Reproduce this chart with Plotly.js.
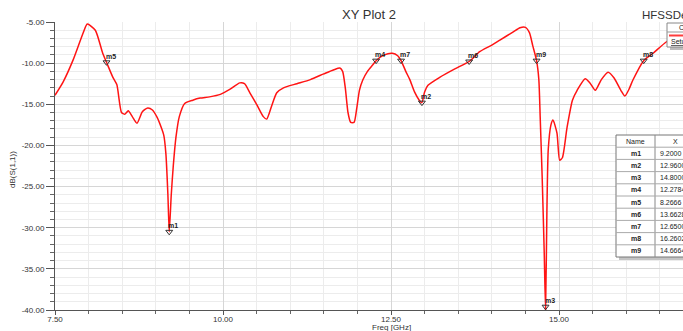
<!DOCTYPE html>
<html>
<head>
<meta charset="utf-8">
<script src="https://cdn.plot.ly/plotly-3.0.1.min.js"></script>
<style>
html,body{margin:0;padding:0;overflow:hidden;background:#fff;}
#chart{width:745px;height:331px;}
</style>
</head>
<body>
<div id="chart"></div>
<script>
// ---- data ----
const freq = [7.50,7.62,7.77,7.92,7.98,8.10,8.21,8.2666,8.36,8.42,8.49,8.54,8.59,8.65,8.72,8.80,8.88,8.95,9.02,9.08,9.12,9.15,9.18,9.20,9.23,9.26,9.30,9.35,9.43,9.55,9.66,9.80,9.96,10.10,10.25,10.32,10.40,10.50,10.60,10.65,10.72,10.80,10.90,11.10,11.30,11.50,11.65,11.74,11.78,11.82,11.86,11.90,11.95,11.99,12.03,12.08,12.15,12.23,12.2784,12.40,12.52,12.60,12.65,12.72,12.78,12.85,12.92,12.96,13.00,13.05,13.23,13.45,13.6628,13.82,14.00,14.12,14.32,14.42,14.50,14.56,14.61,14.6664,14.70,14.72,14.75,14.78,14.80,14.82,14.84,14.88,14.91,14.97,15.01,15.05,15.12,15.20,15.27,15.39,15.46,15.54,15.63,15.73,15.82,15.92,15.98,16.04,16.10,16.2602,16.40,16.60,16.85,17.00];
const s11  = [-13.9,-12.3,-9.6,-6.3,-5.25,-6.0,-8.8,-9.9,-11.7,-12.6,-16.0,-16.2,-15.8,-16.5,-17.3,-15.9,-15.45,-15.7,-16.6,-17.8,-18.8,-21.0,-26.0,-30.5,-26.0,-22.5,-19.0,-16.5,-14.9,-14.5,-14.25,-14.1,-13.8,-13.2,-12.4,-12.5,-13.6,-15.0,-16.5,-16.8,-15.3,-13.6,-13.0,-12.5,-12.0,-11.3,-10.8,-10.6,-11.0,-13.0,-16.0,-17.2,-17.2,-15.5,-13.3,-12.05,-11.0,-10.2,-9.7,-9.0,-8.8,-9.1,-9.7,-11.0,-12.0,-13.5,-14.5,-14.8,-13.5,-12.7,-11.7,-10.7,-9.8,-8.6,-7.8,-7.2,-6.2,-5.7,-5.65,-6.3,-7.9,-9.7,-12.0,-16.5,-24.0,-33.0,-40.0,-28.0,-20.5,-17.5,-16.9,-18.5,-21.8,-21.5,-17.8,-14.5,-13.3,-11.9,-12.4,-13.3,-12.0,-11.1,-11.8,-13.3,-14.0,-13.2,-12.05,-9.7,-8.8,-7.4,-6.3,-5.8];

const markerNames = ["m1","m2","m3","m4","m5","m6","m7","m8","m9"];
const markerX = [9.2000,12.9600,14.8000,12.2784,8.2666,13.6628,12.6500,16.2602,14.6664];
const markerY = [-30.5,-14.8,-39.6,-9.7,-9.9,-9.8,-9.7,-9.7,-9.7];
const markerXText = ["9.2000","12.9600","14.8000","12.2784","8.2666","13.6628","12.6500","16.2602","14.6664"];

const xTickVals = [7.5,10,12.5,15,17.5];
const xTickText = ["7.50","10.00","12.50","15.00","17.50"];
const yTickVals = [-40,-35,-30,-25,-20,-15,-10,-5];
const yTickText = ["-40.00","-35.00","-30.00","-25.00","-20.00","-15.00","-10.00","-5.00"];

// ---- geometry helpers (pixel -> paper) ----
const L = 55, T = 22, PW = 672, PH = 288;
const px = v => (v - L) / PW;
const py = v => 1 - (v - T) / PH;

const FONT = "Liberation Sans, Arial, sans-serif";

const traces = [
  {
    x: freq, y: s11, type: "scatter", mode: "lines",
    line: {color: "rgb(255,20,20)", width: 1.5, shape: "spline", smoothing: 0.6},
    hoverinfo: "skip", showlegend: false
  },
  {
    x: markerX, y: markerY, type: "scatter", mode: "markers",
    marker: {symbol: "triangle-down-open", size: 6, color: "#333", line: {width: 1, color: "#333"}},
    hoverinfo: "skip", showlegend: false
  }
];

const annotations = [];
const shapes = [];

// marker labels
markerNames.forEach((n, i) => {
  annotations.push({x: markerX[i], y: markerY[i], xref: "x", yref: "y", text: "<b>" + n + "</b>",
    showarrow: false, xshift: 4, yshift: 6, font: {family: FONT, size: 7, color: "#222"}});
});

// titles
annotations.push({xref: "paper", yref: "paper", x: px(369), y: py(15), text: "XY Plot 2", showarrow: false,
  xanchor: "center", yanchor: "middle", font: {family: FONT, size: 13, color: "#333"}});
annotations.push({xref: "paper", yref: "paper", x: px(640), y: py(15), text: "HFSSDesign1", showarrow: false,
  xanchor: "left", yanchor: "middle", font: {family: FONT, size: 11.5, color: "#333"}});
annotations.push({xref: "paper", yref: "paper", x: px(391), y: py(327.5), text: "Freq [GHz]", showarrow: false,
  xanchor: "center", yanchor: "middle", font: {family: FONT, size: 8, color: "#333"}});
annotations.push({xref: "paper", yref: "paper", x: px(12), y: py(170), text: "dB(S(1,1))", showarrow: false,
  textangle: -90, xanchor: "center", yanchor: "middle", font: {family: FONT, size: 8, color: "#333"}});

// legend box (top right)
shapes.push({type: "rect", xref: "paper", yref: "paper", x0: px(670), x1: px(733), y0: py(26), y1: py(50),
  fillcolor: "#bdbdbd", line: {width: 0}});
shapes.push({type: "rect", xref: "paper", yref: "paper", x0: px(667), x1: px(730), y0: py(23), y1: py(47),
  fillcolor: "#fff", line: {color: "#888", width: 1}});
shapes.push({type: "line", xref: "paper", yref: "paper", x0: px(667), x1: px(730), y0: py(32), y1: py(32),
  line: {color: "#999", width: 1}});
shapes.push({type: "line", xref: "paper", yref: "paper", x0: px(669), x1: px(690), y0: py(35.5), y1: py(35.5),
  line: {color: "rgb(255,60,60)", width: 2}});
annotations.push({xref: "paper", yref: "paper", x: px(677), y: py(27.5), text: "Curve Info", showarrow: false,
  xanchor: "left", yanchor: "middle", font: {family: FONT, size: 7, color: "#222"}});
annotations.push({xref: "paper", yref: "paper", x: px(669), y: py(41.5), text: "<u>Setup1 : Sweep</u>", showarrow: false,
  xanchor: "left", yanchor: "middle", font: {family: FONT, size: 7, color: "#222"}});

// marker table
const tL = 616, tR = 745, tC = 655, tT = 135, rH = 12.2;
const nRows = markerNames.length + 1;
shapes.push({type: "rect", xref: "paper", yref: "paper", x0: px(tL + 3), x1: px(tR + 3), y0: py(tT + 3), y1: py(tT + nRows * rH + 3),
  fillcolor: "#c4c4c4", line: {width: 0}});
shapes.push({type: "rect", xref: "paper", yref: "paper", x0: px(tL), x1: px(tR), y0: py(tT), y1: py(tT + nRows * rH),
  fillcolor: "#fff", line: {color: "#777", width: 1}});
shapes.push({type: "line", xref: "paper", yref: "paper", x0: px(tC), x1: px(tC), y0: py(tT), y1: py(tT + nRows * rH),
  line: {color: "#888", width: 1}});
for (let r = 1; r < nRows; r++) {
  shapes.push({type: "line", xref: "paper", yref: "paper", x0: px(tL), x1: px(tR), y0: py(tT + r * rH), y1: py(tT + r * rH),
    line: {color: "#aaa", width: 1}});
}
annotations.push({xref: "paper", yref: "paper", x: px((tL + tC) / 2), y: py(tT + rH / 2), text: "Name", showarrow: false,
  xanchor: "center", yanchor: "middle", font: {family: FONT, size: 7, color: "#222"}});
annotations.push({xref: "paper", yref: "paper", x: px(tC + 20), y: py(tT + rH / 2), text: "X", showarrow: false,
  xanchor: "center", yanchor: "middle", font: {family: FONT, size: 7, color: "#222"}});
markerNames.forEach((n, i) => {
  const yc = tT + (i + 1.5) * rH;
  annotations.push({xref: "paper", yref: "paper", x: px((tL + tC) / 2), y: py(yc), text: "<b>" + n + "</b>", showarrow: false,
    xanchor: "center", yanchor: "middle", font: {family: FONT, size: 7, color: "#222"}});
  annotations.push({xref: "paper", yref: "paper", x: px(tC + 3), y: py(yc), text: markerXText[i], showarrow: false,
    xanchor: "left", yanchor: "middle", font: {family: FONT, size: 7, color: "#222"}});
});

const layout = {
  width: 745, height: 331,
  margin: {l: L, r: 745 - L - PW, t: T, b: 331 - T - PH, pad: 0},
  paper_bgcolor: "#fff", plot_bgcolor: "#fff",
  font: {family: FONT, size: 9, color: "#333"},
  showlegend: false,
  xaxis: {
    range: [7.5, 17.5], autorange: false,
    tickmode: "array", tickvals: xTickVals, ticktext: xTickText,
    ticks: "outside", ticklen: 4, tickcolor: "#555", tickwidth: 1,
    ticklabelstandoff: -3,
    showgrid: true, gridcolor: "#d6d6d6", gridwidth: 1,
    showline: true, linecolor: "#555", linewidth: 1,
    zeroline: false,
    tickfont: {family: FONT, size: 8, color: "#333"},
    minor: {dtick: 0.5, tick0: 7.5, showgrid: true, gridcolor: "#ececec", gridwidth: 1, ticks: "outside", ticklen: 3, tickcolor: "#666"}
  },
  yaxis: {
    range: [-40, -5], autorange: false,
    tickmode: "array", tickvals: yTickVals, ticktext: yTickText,
    ticks: "outside", ticklen: 8, tickcolor: "#555", tickwidth: 1,
    showgrid: true, gridcolor: "#d6d6d6", gridwidth: 1,
    showline: true, linecolor: "#555", linewidth: 1,
    zeroline: false,
    tickfont: {family: FONT, size: 8, color: "#333"},
    minor: {dtick: 1, tick0: -40, showgrid: true, gridcolor: "#ececec", gridwidth: 1, ticks: "outside", ticklen: 4, tickcolor: "#666"}
  },
  shapes: shapes,
  annotations: annotations
};

Plotly.newPlot("chart", traces, layout, {staticPlot: true, displayModeBar: false});
</script>
</body>
</html>
